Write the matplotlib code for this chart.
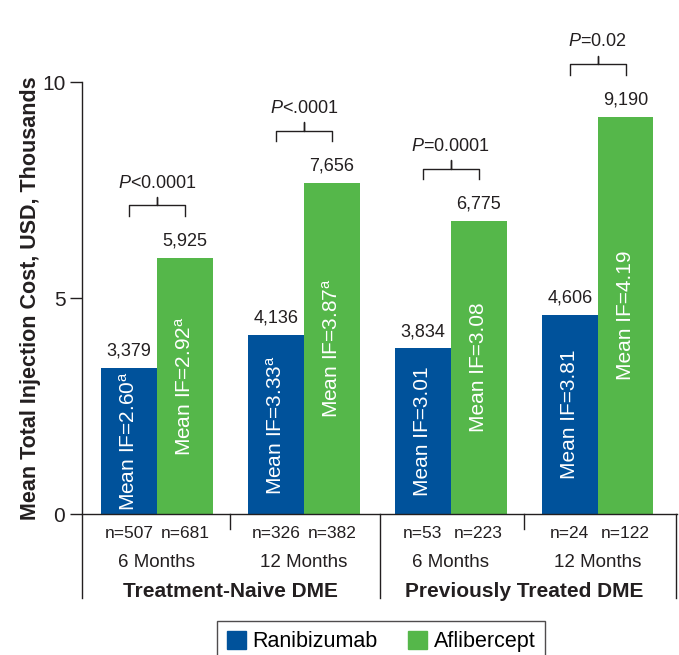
import numpy as np
import matplotlib
matplotlib.use('Agg')
import matplotlib.pyplot as plt
from matplotlib.patches import Patch

plt.rcParams['font.family'] = ['Liberation Sans', 'DejaVu Sans']
plt.rcParams['mathtext.fontset'] = 'custom'
plt.rcParams['mathtext.rm'] = 'Liberation Sans'
plt.rcParams['mathtext.it'] = 'Liberation Sans:italic'

# data
periods = ['6 Months', '12 Months', '6 Months', '12 Months']
cohorts = ['Treatment-Naive DME', 'Previously Treated DME']
rani_cost = [3.379, 4.136, 3.834, 4.606]
afli_cost = [5.925, 7.656, 6.775, 9.190]
rani_if = ['2.60$^{\\mathrm{a}}$', '3.33$^{\\mathrm{a}}$', '3.01', '3.81']
afli_if = ['2.92$^{\\mathrm{a}}$', '3.87$^{\\mathrm{a}}$', '3.08', '4.19']
rani_n = [507, 326, 53, 24]
afli_n = [681, 382, 223, 122]
pvals = ['$\\mathit{P}$<0.0001', '$\\mathit{P}$<.0001', '$\\mathit{P}$=0.0001', '$\\mathit{P}$=0.02']

blue = '#00529B'
green = '#55B74A'
dark = '#231F20'

fig = plt.figure(figsize=(6.79, 6.55), dpi=100)
ax = fig.add_axes([82/679, 141/655, 595/679, 432/655])

x = np.arange(len(periods))
w = 0.38
ax.bar(x - w/2, rani_cost, w, color=blue)
ax.bar(x + w/2, afli_cost, w, color=green)

ax.set_xlim(-0.51, 3.54)
ax.set_ylim(0, 10)
ax.set_yticks([0, 5, 10])
ax.tick_params(axis='y', length=9, width=1, colors=dark, labelsize=15, pad=3)
ax.set_xticks([])
ax.spines['top'].set_visible(False)
ax.spines['right'].set_visible(False)
ax.spines['left'].set_bounds(-1.94, 10)
for s in ['left', 'bottom']:
    ax.spines[s].set_color(dark)
    ax.spines[s].set_linewidth(1)
ax.set_ylabel('Mean Total Injection Cost, USD, Thousands', fontsize=15.5,
              fontweight='bold', color=dark, labelpad=1)

# value labels + IF text in bars
for i in range(len(x)):
    for xx, val, iff in [(x[i] - w/2, rani_cost[i], rani_if[i]),
                         (x[i] + w/2, afli_cost[i], afli_if[i])]:
        ax.annotate(f'{int(round(val*1000)):,}', (xx, val), xytext=(0, 6),
                    textcoords='offset points', ha='center', va='bottom',
                    fontsize=13, color=dark)
        ax.text(xx, val / 2, 'Mean IF=' + iff, rotation=90, rotation_mode='anchor',
                ha='center', va='center', fontsize=15, color='white')

    # p-value brackets
    x1, x2 = x[i] - w/2, x[i] + w/2
    b = afli_cost[i] + 0.97
    h, p = 0.25, 0.2
    ax.plot([x1, x1, x[i], x[i], x[i], x2, x2],
            [b, b + h, b + h, b + h + p, b + h, b + h, b],
            color=dark, lw=1, clip_on=False)
    ax.text(x[i], b + h + p + 0.12, pvals[i], ha='center', va='bottom',
            fontsize=13, color=dark, clip_on=False)

# x labels under the axis
tr = ax.get_xaxis_transform()
for i in range(len(x)):
    ax.text(x[i] - w/2, -0.045, f'n={rani_n[i]}', transform=tr,
            ha='center', va='center', fontsize=12.5, color=dark)
    ax.text(x[i] + w/2, -0.045, f'n={afli_n[i]}', transform=tr,
            ha='center', va='center', fontsize=12.5, color=dark)
    ax.text(x[i], -0.113, periods[i], transform=tr,
            ha='center', va='center', fontsize=13.5, color=dark)
for j, c in enumerate(cohorts):
    ax.text(2*j + 0.5, -0.18, c, transform=tr,
            ha='center', va='center', fontsize=15, fontweight='bold', color=dark)

# separators
for sx in [0.5, 2.5]:
    ax.plot([sx, sx], [0, -0.035], transform=tr, color=dark, lw=1, clip_on=False)
for sx in [1.52, 3.535]:
    ax.plot([sx, sx], [0, -0.194], transform=tr, color=dark, lw=1, clip_on=False)

handles = [Patch(color=blue, label='Ranibizumab'), Patch(color=green, label='Aflibercept')]
leg = fig.legend(handles=handles, loc='upper center', bbox_to_anchor=(381/679, 1 - 621/655),
                 ncol=2, frameon=True, fancybox=False, fontsize=15.5, handlelength=0.9,
                 handleheight=0.9, handletextpad=0.3, columnspacing=1.4, borderpad=0.45,
                 borderaxespad=0)
leg.get_frame().set_edgecolor(dark)
leg.get_frame().set_linewidth(1)

fig.savefig('out.png', dpi=100)
